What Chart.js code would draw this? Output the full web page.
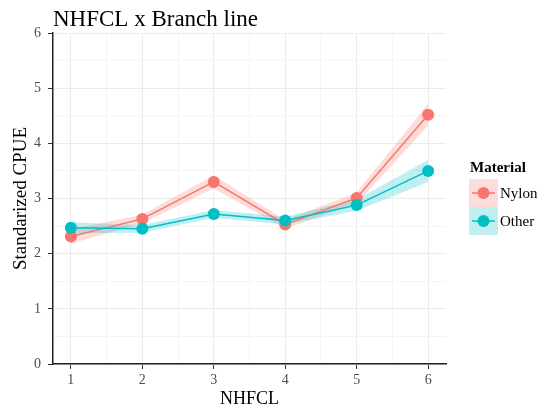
<!DOCTYPE html>
<html>
<head>
<meta charset="utf-8">
<script src="https://cdn.jsdelivr.net/npm/chart.js@4.4.0/dist/chart.umd.min.js"></script>
<style>
  body { margin: 0; background: #fff; }
</style>
</head>
<body>
<canvas id="cpueChart" width="547" height="414"></canvas>
<script>
// values
const nhfcl = [1, 2, 3, 4, 5, 6];
const nylonCpue = [2.31, 2.63, 3.30, 2.53, 3.01, 4.52];
const nylonLow = [2.18, 2.55, 3.18, 2.45, 2.91, 4.32];
const nylonHigh = [2.44, 2.71, 3.42, 2.61, 3.11, 4.72];
const otherCpue = [2.47, 2.45, 2.72, 2.60, 2.88, 3.50];
const otherLow = [2.37, 2.38, 2.65, 2.53, 2.78, 3.30];
const otherHigh = [2.57, 2.52, 2.79, 2.67, 2.98, 3.70];
const xTicks = [1, 1.5, 2, 2.5, 3, 3.5, 4, 4.5, 5, 5.5, 6];
const yTicks = [0, 0.5, 1, 1.5, 2, 2.5, 3, 3.5, 4, 4.5, 5, 5.5, 6];

const serif = '"Liberation Serif", "DejaVu Serif", serif';
const nylonCol = "#F8766D";
const otherCol = "#00BFC4";
const nylonBand = "rgba(248,118,109,0.25)";
const otherBand = "rgba(0,191,196,0.25)";

function pts(ys) {
  return nhfcl.map((x, i) => ({ x: x, y: ys[i] }));
}

function isMajor(ctx) {
  return ctx.tick && Number.isInteger(ctx.tick.value);
}

const titlePlugin = {
  id: "plotTitle",
  afterDraw(chart) {
    const ctx = chart.ctx;
    ctx.save();
    ctx.font = "23px " + serif;
    ctx.fillStyle = "#000";
    ctx.textBaseline = "alphabetic";
    ctx.fillText("NHFCL x Branch line", chart.chartArea.left, 26);
    ctx.restore();
  },
};

// ggplot-like legend with ribbon tiles
const legendPlugin = {
  id: "materialLegend",
  afterDraw(chart) {
    const ctx = chart.ctx;
    const items = [
      { label: "Nylon", col: nylonCol, band: nylonBand },
      { label: "Other", col: otherCol, band: otherBand },
    ];
    const x0 = 469;
    let y0 = 179;
    ctx.save();
    ctx.font = "bold 15px " + serif;
    ctx.fillStyle = "#000";
    ctx.fillText("Material", x0 + 1, 172);
    items.forEach((it) => {
      ctx.fillStyle = it.band;
      ctx.fillRect(x0, y0, 29, 28);
      ctx.strokeStyle = it.col;
      ctx.lineWidth = 1.5;
      ctx.beginPath();
      ctx.moveTo(x0 + 3, y0 + 14);
      ctx.lineTo(x0 + 26, y0 + 14);
      ctx.stroke();
      ctx.fillStyle = it.col;
      ctx.beginPath();
      ctx.arc(x0 + 14.5, y0 + 14, 6, 0, Math.PI * 2);
      ctx.fill();
      ctx.fillStyle = "#000";
      ctx.font = "15px " + serif;
      ctx.fillText(it.label, x0 + 31, y0 + 19);
      y0 += 28;
    });
    ctx.restore();
  },
};

new Chart(document.getElementById("cpueChart"), {
  type: "line",
  data: {
    datasets: [
      { label: "nylonHigh", data: pts(nylonHigh), fill: 1, backgroundColor: nylonBand, borderWidth: 0, pointRadius: 0, order: 10 },
      { label: "nylonLow", data: pts(nylonLow), fill: false, borderWidth: 0, pointRadius: 0, order: 10 },
      { label: "otherHigh", data: pts(otherHigh), fill: 3, backgroundColor: otherBand, borderWidth: 0, pointRadius: 0, order: 9 },
      { label: "otherLow", data: pts(otherLow), fill: false, borderWidth: 0, pointRadius: 0, order: 9 },
      {
        label: "Nylon",
        data: pts(nylonCpue),
        borderColor: nylonCol,
        backgroundColor: nylonCol,
        borderWidth: 1.5,
        pointRadius: 6,
        pointBorderWidth: 0,
        tension: 0,
        order: 2,
      },
      {
        label: "Other",
        data: pts(otherCpue),
        borderColor: otherCol,
        backgroundColor: otherCol,
        borderWidth: 1.5,
        pointRadius: 6,
        pointBorderWidth: 0,
        tension: 0,
        order: 1,
      },
    ],
  },
  options: {
    responsive: false,
    animation: false,
    layout: { padding: { top: 33, right: 101, left: 0, bottom: 0 } },
    plugins: {
      legend: { display: false },
      tooltip: { enabled: false },
      title: { display: false },
    },
    scales: {
      x: {
        type: "linear",
        min: 0.75,
        max: 6.25,
        afterBuildTicks: (axis) => {
          axis.ticks = xTicks.map((v) => ({ value: v }));
        },
        afterFit: (axis) => {
          axis.height = 50;
        },
        ticks: {
          autoSkip: false,
          maxRotation: 0,
          padding: 3,
          color: "#4d4d4d",
          font: { family: serif, size: 14 },
          callback: (v) => (Number.isInteger(v) ? v : ""),
        },
        grid: {
          color: (ctx) => (isMajor(ctx) ? "#ebebeb" : "#f5f5f5"),
          tickColor: (ctx) => (isMajor(ctx) ? "#333" : "rgba(0,0,0,0)"),
          tickLength: 5,
          lineWidth: 1,
        },
        border: { color: "#222", width: 1.5 },
        title: {
          display: true,
          text: "NHFCL",
          color: "#000",
          font: { family: serif, size: 18 },
          padding: { top: 0, bottom: 4 },
        },
      },
      y: {
        type: "linear",
        min: 0,
        max: 6,
        afterBuildTicks: (axis) => {
          axis.ticks = yTicks.map((v) => ({ value: v }));
        },
        afterFit: (axis) => {
          axis.width = 53;
        },
        ticks: {
          autoSkip: false,
          padding: 7,
          color: "#4d4d4d",
          font: { family: serif, size: 14 },
          callback: (v) => (Number.isInteger(v) ? v : ""),
        },
        grid: {
          color: (ctx) => (isMajor(ctx) ? "#ebebeb" : "#f5f5f5"),
          tickColor: (ctx) => (isMajor(ctx) ? "#333" : "rgba(0,0,0,0)"),
          tickLength: 5,
          lineWidth: 1,
        },
        border: { color: "#222", width: 1.5 },
        title: {
          display: true,
          text: "Standarized CPUE",
          color: "#000",
          font: { family: serif, size: 19 },
          padding: { top: 10, bottom: 0 },
        },
      },
    },
  },
  plugins: [titlePlugin, legendPlugin],
});
</script>
</body>
</html>
